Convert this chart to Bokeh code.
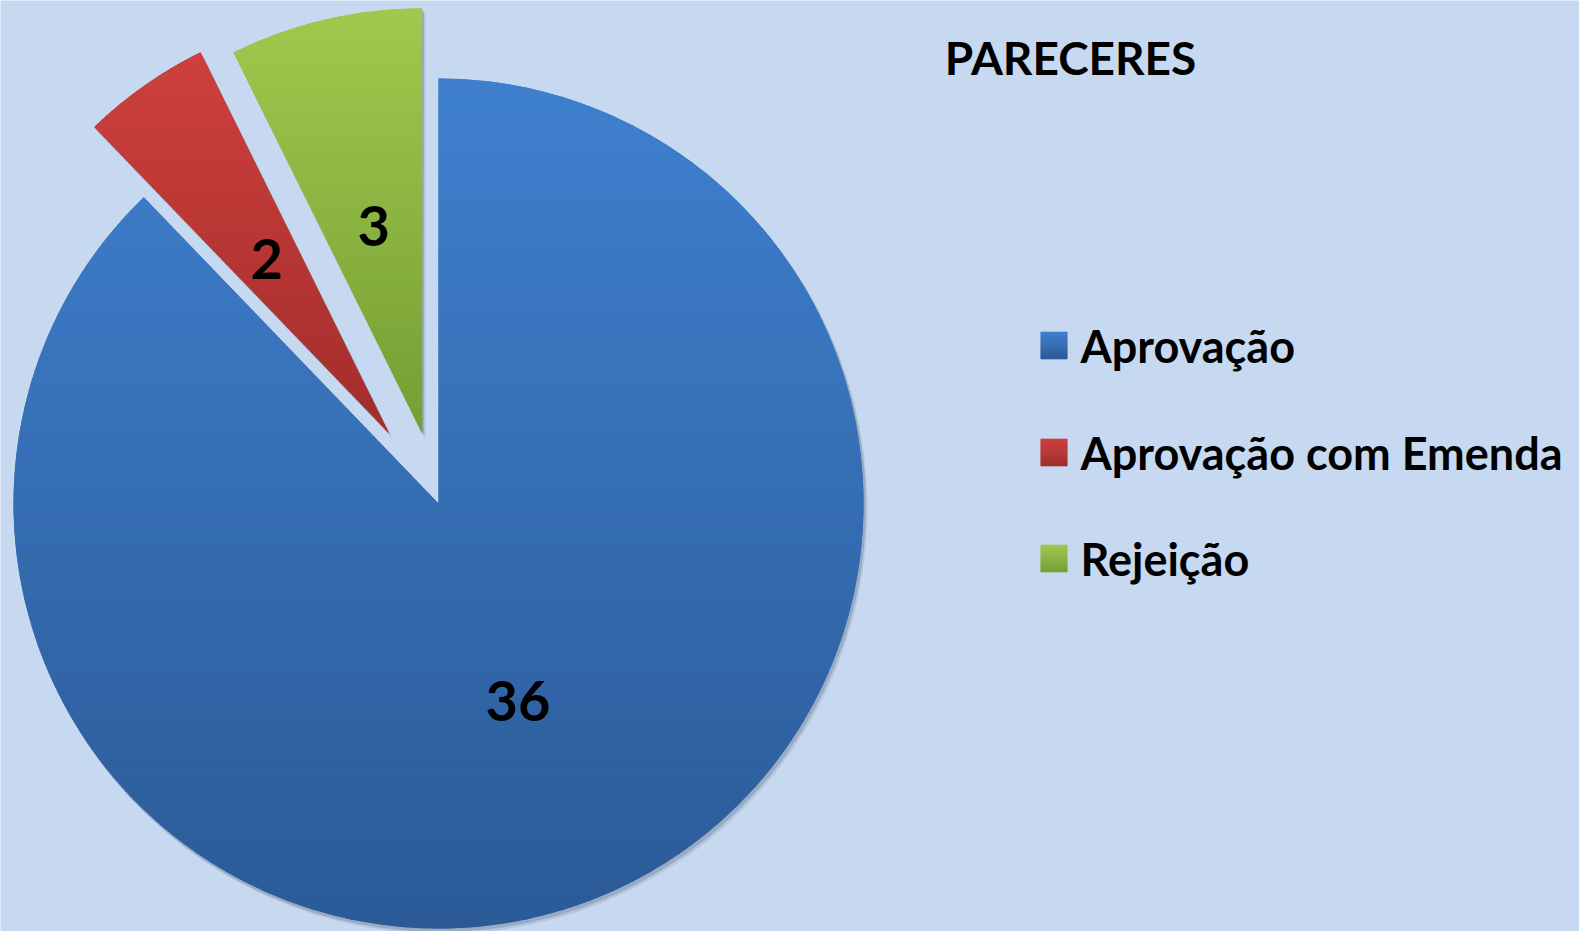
import numpy as np
from bokeh.plotting import figure
from bokeh.models import Range1d
from bokeh.core.properties import value
from bokeh.embed import file_html
from bokeh.resources import INLINE

# ---- data ----
categories = ["Aprovação", "Aprovação com Emenda", "Rejeição"]
counts = [36, 2, 3]
title_text = "PARECERES"

# ---- style ----
bg = "#C6D9F1"
top_colors = ["#3F80CE", "#CE403D", "#A0C94D"]
bottom_colors = ["#2B5A97", "#A22D2B", "#759E34"]
mid_colors = ["#3570B8", "#BA3734", "#8CB441"]
explode_px = [0, 86, 72]
FONT = "Lato"

W, H = 1579, 931
FULL_H = 931


def yd(y_full):
    return FULL_H - y_full


p = figure(width=W, height=H, x_range=Range1d(0, W), y_range=Range1d(0, H),
           output_backend="svg", toolbar_location=None, x_axis_type=None, y_axis_type=None,
           min_border=0, background_fill_color=bg, border_fill_color=bg, outline_line_color=None)
p.grid.visible = False

cx, cy, R = 438.0, yd(503), 425.0
total = float(sum(counts))
cw_end = np.cumsum(counts) / total * 360.0
cw_start = cw_end - np.array(counts) / total * 360.0
start_deg = 90.0 - cw_end      # anticlockwise start (math angle)
end_deg = 90.0 - cw_start
mid_deg = (start_deg + end_deg) / 2.0
apx = [cx + e * np.cos(np.radians(m)) for e, m in zip(explode_px, mid_deg)]
apy = [cy + e * np.sin(np.radians(m)) for e, m in zip(explode_px, mid_deg)]


def hex2rgb(h):
    h = h.lstrip("#")
    return np.array([int(h[i:i + 2], 16) for i in (0, 2, 4)], dtype=float)


def mix(c1, c2, t):
    c = hex2rgb(c1) * (1 - t) + hex2rgb(c2) * t
    return "#%02x%02x%02x" % tuple(int(round(v)) for v in c)


def inter(a, b, y0):
    t = (y0 - a[1]) / (b[1] - a[1])
    return (a[0] + t * (b[0] - a[0]), y0)


def clip(poly, y0, above):
    out = []
    n = len(poly)
    for i in range(n):
        cur, prev = poly[i], poly[i - 1]
        cin = cur[1] >= y0 if above else cur[1] <= y0
        pin = prev[1] >= y0 if above else prev[1] <= y0
        if cin:
            if not pin:
                out.append(inter(prev, cur, y0))
            out.append(cur)
        elif pin:
            out.append(inter(prev, cur, y0))
    return out


# shadows
for off, a in [((3.5, -5.0), 0.10), ((2.0, -3.0), 0.18)]:
    p.wedge(x=[x + off[0] for x in apx], y=[y + off[1] for y in apy], radius=R + 0.5,
            start_angle=list(start_deg), end_angle=list(end_deg), start_angle_units="deg",
            end_angle_units="deg", fill_color="#1F2F45", fill_alpha=a, line_color=None)

# base wedges
p.wedge(x=apx, y=apy, radius=R, start_angle=list(start_deg), end_angle=list(end_deg),
        start_angle_units="deg", end_angle_units="deg", fill_color=mid_colors, line_color=None)

# gradient bands
NB = 90
xs_all, ys_all, cols = [], [], []
for i in range(len(counts)):
    th = np.radians(np.linspace(start_deg[i], end_deg[i], 400))
    poly = [(apx[i], apy[i])] + [(apx[i] + R * np.cos(t), apy[i] + R * np.sin(t)) for t in th]
    ymin = min(q[1] for q in poly)
    ymax = max(q[1] for q in poly)
    edges = np.linspace(ymax, ymin, NB + 1)
    for k in range(NB):
        y_hi, y_lo = edges[k] + 0.7, edges[k + 1] - 0.7
        piece = clip(clip(poly, y_lo, True), y_hi, False)
        if len(piece) < 3:
            continue
        xs_all.append([q[0] for q in piece])
        ys_all.append([q[1] for q in piece])
        cols.append(mix(top_colors[i], bottom_colors[i], (k + 0.5) / NB))
p.patches(xs=xs_all, ys=ys_all, fill_color=cols, line_color=None)

# data labels
lab_r = 0.5 * R
lx = [ax + lab_r * np.cos(np.radians(m)) for ax, m in zip(apx, mid_deg)]
ly = [ay + lab_r * np.sin(np.radians(m)) for ay, m in zip(apy, mid_deg)]
p.text(x=lx, y=ly, text=[str(c) for c in counts], text_font=value(FONT), text_font_style="bold",
       text_font_size="56px", text_align="center", text_baseline="middle", text_color="#000000")

# title
p.text(x=[1070], y=[yd(57)], text=[title_text], text_font=value(FONT), text_font_style="bold",
       text_font_size="46px", text_align="center", text_baseline="middle", text_color="#000000")

# legend
leg_y = [yd(345), yd(452), yd(558)]
sq = 27.0
sx0 = 1040.0
qx0, qx1, qy0, qy1, qc = [], [], [], [], []
NSQ = 14
for i, y in enumerate(leg_y):
    for k in range(NSQ):
        t = sq / NSQ
        qx0.append(sx0)
        qx1.append(sx0 + sq)
        qy1.append(y + sq / 2 - k * t + 0.3)
        qy0.append(y + sq / 2 - (k + 1) * t - 0.3)
        qc.append(mix(top_colors[i], bottom_colors[i], (k + 0.5) / NSQ))
p.quad(left=qx0, right=qx1, bottom=qy0, top=qy1, fill_color=qc, line_color=None)
p.text(x=[1080] * 3, y=leg_y, text=categories, text_font=value(FONT), text_font_style="bold",
       text_font_size="45px", text_align="left", text_baseline="middle", text_color="#000000")

open("out.html", "w").write(file_html(p, INLINE))
